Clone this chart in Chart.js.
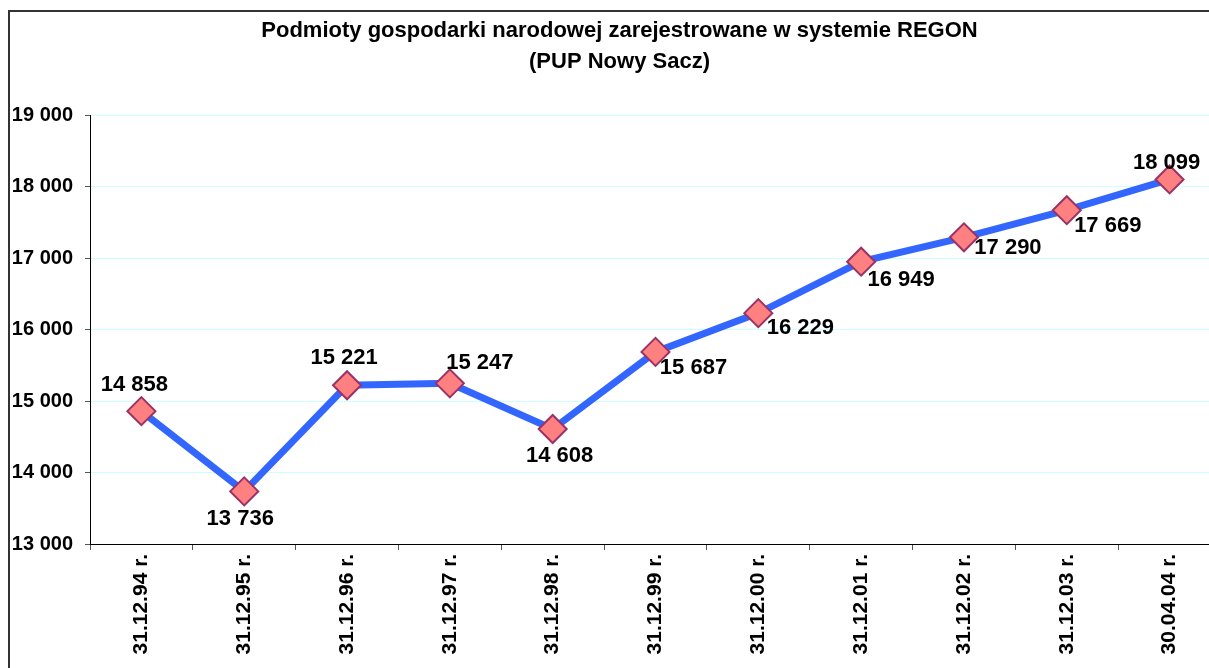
<!DOCTYPE html>
<html lang="pl">
<head>
    <meta charset="UTF-8">
    <title>Podmioty gospodarki narodowej - REGON</title>
    <script src="https://cdn.jsdelivr.net/npm/chart.js"></script>
    <style>
        body {
            margin: 0;
            overflow: hidden;
            background: #fff;
        }
        .frame {
            position: absolute;
            left: 8px;
            top: 10px;
            width: 1240px;
            height: 720px;
            border: 2px solid #333;
        }
        .chart-box {
            position: relative;
            width: 1227px;
            height: 700px;
        }
    </style>
</head>
<body>
    <div class="frame">
        <div class="chart-box">
            <canvas id="regonChart"></canvas>
        </div>
    </div>

    <script>
        // dane
        const dates = ['31.12.94 r.', '31.12.95 r.', '31.12.96 r.', '31.12.97 r.', '31.12.98 r.', '31.12.99 r.',
                       '31.12.00 r.', '31.12.01 r.', '31.12.02 r.', '31.12.03 r.', '30.04.04 r.'];
        const podmioty = [14858, 13736, 15221, 15247, 14608, 15687, 16229, 16949, 17290, 17669, 18099];
        const yTicks = [13000, 14000, 15000, 16000, 17000, 18000, 19000];

        const fmt = v => String(v).replace(/\B(?=(\d{3})+(?!\d))/g, ' ');

        // etykiety wartości przy punktach (przesunięcia jak na oryginale)
        const labelOffsets = [[-7, -26], [-4, 28], [-3, -27], [30, -20], [7, 27], [38, 16],
                              [42, 15], [40, 18], [44, 11], [41, 16], [-3, -17]];

        const valueLabels = {
            id: 'valueLabels',
            afterDatasetsDraw(chart) {
                const ctx = chart.ctx;
                const meta = chart.getDatasetMeta(0);
                ctx.save();
                ctx.font = 'bold 22px "Liberation Sans", Arial, sans-serif';
                ctx.fillStyle = '#000';
                ctx.textAlign = 'center';
                ctx.textBaseline = 'middle';
                meta.data.forEach((pt, i) => {
                    const off = labelOffsets[i] || [0, -24];
                    ctx.fillText(fmt(chart.data.datasets[0].data[i]), pt.x + off[0], pt.y + off[1]);
                });
                ctx.restore();
            }
        };

        const ctx = document.getElementById('regonChart').getContext('2d');
        new Chart(ctx, {
            type: 'line',
            data: {
                labels: dates,
                datasets: [{
                    data: podmioty,
                    borderColor: '#3366FF',
                    borderWidth: 7,
                    tension: 0,
                    pointStyle: 'rectRot',
                    pointRadius: 14,
                    pointHoverRadius: 14,
                    pointBackgroundColor: '#FF8080',
                    pointBorderColor: '#993366',
                    pointBorderWidth: 2
                }]
            },
            options: {
                responsive: true,
                maintainAspectRatio: false,
                animation: false,
                layout: { padding: { top: 0, right: 8, left: 0, bottom: 0 } },
                plugins: {
                    legend: { display: false },
                    tooltip: { enabled: false },
                    title: {
                        display: true,
                        text: ['Podmioty gospodarki narodowej zarejestrowane w systemie REGON', '(PUP Nowy Sacz)'],
                        color: '#000',
                        font: { family: '"Liberation Sans", Arial, sans-serif', size: 22, weight: 'bold', lineHeight: 1.41 },
                        padding: { top: 3, bottom: 38 }
                    }
                },
                scales: {
                    x: {
                        offset: true,
                        grid: {
                            offset: true,
                            drawOnChartArea: false,
                            tickLength: 6,
                            tickColor: '#555'
                        },
                        border: { color: '#000', width: 1 },
                        ticks: {
                            color: '#000',
                            minRotation: 90,
                            maxRotation: 90,
                            padding: 4,
                            font: { family: '"Liberation Sans", Arial, sans-serif', size: 21, weight: 'bold' }
                        },
                        afterFit(scale) { scale.height = 168; }
                    },
                    y: {
                        min: yTicks[0],
                        max: yTicks[yTicks.length - 1],
                        afterBuildTicks(scale) { scale.ticks = yTicks.map(v => ({ value: v })); },
                        grid: {
                            color: '#CCFFFF',
                            tickLength: 5,
                            tickColor: '#555'
                        },
                        border: { color: '#000', width: 1 },
                        ticks: {
                            color: '#000',
                            padding: 12,
                            callback: v => fmt(v),
                            font: { family: '"Liberation Sans", Arial, sans-serif', size: 20, weight: 'bold' }
                        },
                        afterFit(scale) { scale.width = 80; }
                    }
                }
            },
            plugins: [valueLabels]
        });
    </script>
</body>
</html>
